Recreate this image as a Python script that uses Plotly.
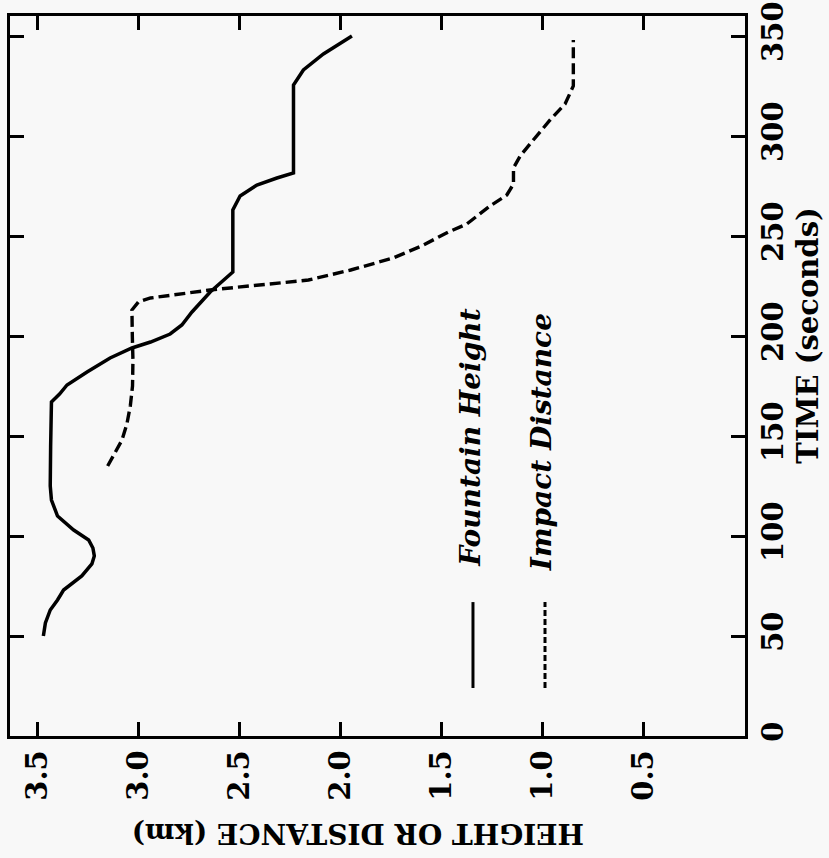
import plotly.graph_objects as go

# Fountain Height (solid): time (s) and height (km)
fh_time = [50, 56.5, 63, 68, 73, 77, 80, 86, 90, 94, 98, 103, 110, 118, 125, 145, 167,
           171, 175.5, 182, 189, 194, 197, 201, 205.5, 212, 222, 232,
           263, 270, 275.5, 279, 281.5, 325.5, 333, 341, 350]
fh_height = [3.47, 3.46, 3.436, 3.40, 3.37, 3.32, 3.28, 3.23, 3.218, 3.225, 3.246, 3.32, 3.40, 3.43, 3.436, 3.434, 3.43,
             3.39, 3.353, 3.254, 3.14, 3.032, 2.94, 2.843, 2.785, 2.735, 2.645, 2.533,
             2.533, 2.497, 2.414, 2.315, 2.233, 2.233, 2.184, 2.085, 1.944]

# Impact Distance (dashed)
id_time = [135, 140, 148, 156, 165, 175, 188, 200, 213, 217, 219, 223, 225.5, 228,
           233, 239, 245, 248, 252, 256, 265, 270.5, 276, 284, 290, 298, 308, 316, 325, 333, 348]
id_height = [3.152, 3.123, 3.081, 3.057, 3.04, 3.029, 3.027, 3.03, 3.032, 3.0, 2.94, 2.645, 2.397, 2.159,
             1.95, 1.74, 1.60, 1.541, 1.467, 1.376, 1.261, 1.178, 1.145, 1.145, 1.112, 1.047, 0.964, 0.89, 0.849, 0.849, 0.849]

height_ticks = [3.5, 3.0, 2.5, 2.0, 1.5, 1.0, 0.5]
height_labels = ["3.5", "3.0", "2.5", "2.0", "1.5", "1.0", "0.5"]
time_ticks = [0, 50, 100, 150, 200, 250, 300, 350]
time_labels = ["0", "50", "100", "150", "200", "250", "300", "350"]

BG = "#f8f8f8"
FONT = "DejaVu Serif"

fig = go.Figure()
fig.add_trace(go.Scatter(x=fh_height, y=fh_time, mode="lines",
                         line=dict(color="black", width=3.5), name="Fountain Height"))
fig.add_trace(go.Scatter(x=id_height, y=id_time, mode="lines",
                         line=dict(color="black", width=3.4, dash="11px,5px"), name="Impact Distance"))

axis_common = dict(showgrid=False, zeroline=False, showline=True, linecolor="black", linewidth=2.5,
                   ticks="inside", ticklen=14, tickwidth=2.5, tickcolor="black", mirror="ticks",
                   automargin=False, ticklabeloverflow="allow",
                   tickfont=dict(family=FONT, size=29, color="black", weight="bold"), tickangle=-90)

fig.update_layout(
    width=829, height=858,
    margin=dict(l=10, r=84, t=16, b=122),
    paper_bgcolor=BG, plot_bgcolor=BG,
    showlegend=False,
    xaxis=dict(range=[3.635, 0], tickvals=height_ticks, ticktext=height_labels, **axis_common),
    yaxis=dict(range=[0, 360], side="right", tickvals=time_ticks, ticktext=time_labels, **axis_common),
)

fig.add_annotation(text="TIME (seconds)", xref="paper", yref="paper", x=1.0857, y=0.556,
                   textangle=-90, showarrow=False, xanchor="center", yanchor="middle",
                   font=dict(family=FONT, size=29, color="black", weight="bold"))
fig.add_annotation(text="HEIGHT OR DISTANCE (km)", xref="paper", yref="paper", x=0.4735, y=-0.1347,
                   textangle=180, showarrow=False, xanchor="center", yanchor="middle",
                   font=dict(family=FONT, size=28, color="black", weight="bold"))

fig.add_annotation(text="Fountain Height", xref="paper", yref="paper", x=0.627, y=0.414,
                   textangle=-90, showarrow=False, xanchor="center", yanchor="middle",
                   font=dict(family=FONT, size=28, color="black", weight="bold", style="italic"))
fig.add_annotation(text="Impact Distance", xref="paper", yref="paper", x=0.7224, y=0.408,
                   textangle=-90, showarrow=False, xanchor="center", yanchor="middle",
                   font=dict(family=FONT, size=28, color="black", weight="bold", style="italic"))

fig.add_shape(type="line", xref="paper", yref="paper", x0=0.6299, x1=0.6299, y0=0.0667, y1=0.186,
              line=dict(color="black", width=3))
fig.add_shape(type="line", xref="paper", yref="paper", x0=0.7279, x1=0.7279, y0=0.0667, y1=0.186,
              line=dict(color="black", width=3, dash="6px,3px"))

fig.write_html("out.html", config={"displayModeBar": False},
               post_script="document.body.style.margin='0';document.body.style.background='%s';" % BG)
